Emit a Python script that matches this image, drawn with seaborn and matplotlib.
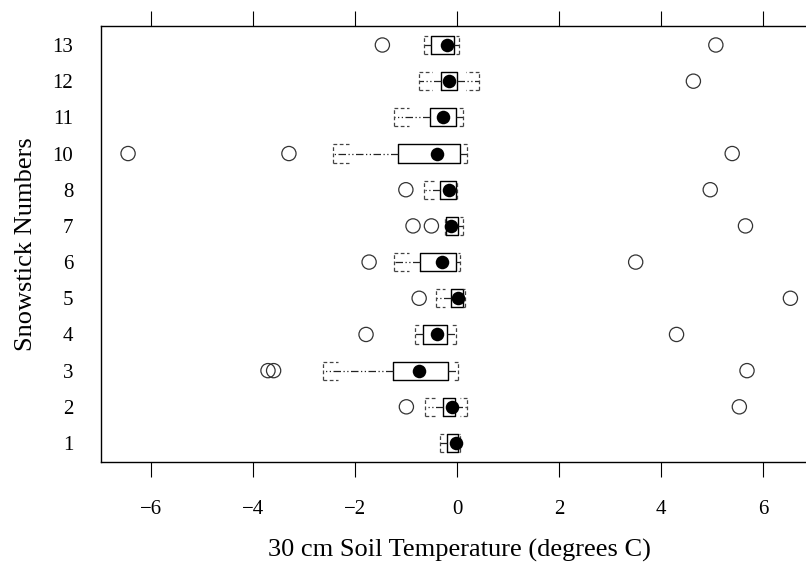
import matplotlib
matplotlib.use("Agg")
import matplotlib.pyplot as plt
import seaborn as sns
import numpy as np
import pandas as pd

# Snowstick stations (no station 9) and 30 cm soil temperature summaries
stations = ["1", "2", "3", "4", "5", "6", "7", "8", "10", "11", "12", "13"]
whisker_lo = [-0.33, -0.63, -2.62, -0.82, -0.41, -1.24, -0.24, -0.64, -2.42, -1.24, -0.75, -0.65]
q1 = [-0.20, -0.27, -1.25, -0.66, -0.11, -0.73, -0.22, -0.33, -1.16, -0.53, -0.31, -0.51]
median = [-0.02, -0.09, -0.75, -0.39, 0.02, -0.30, -0.11, -0.15, -0.39, -0.27, -0.16, -0.20]
q3 = [0.02, -0.04, -0.17, -0.20, 0.11, -0.02, 0.02, -0.02, 0.06, -0.02, 0.01, -0.05]
whisker_hi = [0.06, 0.19, 0.02, -0.01, 0.15, 0.06, 0.12, 0.01, 0.19, 0.11, 0.43, 0.04]
outliers = [
    [],
    [-0.99, 5.53],
    [-3.70, -3.59, 5.68],
    [-1.78, 4.30],
    [-0.74, 6.53],
    [-1.72, 3.50],
    [-0.86, -0.50, 5.65],
    [-1.00, 4.96],
    [-6.44, -3.29, 5.39],
    [],
    [4.63],
    [-1.46, 5.07],
]
x_ticks = [-6, -4, -2, 0, 2, 4, 6]

sns.set_theme(style="white")
plt.rcParams["font.family"] = ["Liberation Serif", "DejaVu Serif"]

fig = plt.figure(figsize=(8.06, 5.62), dpi=100)
W, H = 806, 562
left_px, right_px, top_px, bottom_px = 101, 818.5, 26, 462
ax = fig.add_axes([left_px / W, 1 - bottom_px / H,
                   (right_px - left_px) / W, (bottom_px - top_px) / H])

pos = np.arange(len(stations))
half = 0.25

stats = [dict(whislo=a, q1=b, med=c, q3=d, whishi=e, fliers=[])
         for a, b, c, d, e in zip(whisker_lo, q1, median, q3, whisker_hi)]
ax.bxp(stats, positions=pos, widths=2 * half, orientation="horizontal",
       showfliers=False, patch_artist=False,
       boxprops=dict(color="black", linewidth=1.0),
       whiskerprops=dict(color="#222222", linewidth=0.9, linestyle=(0, (6, 2, 1, 2, 1, 2))),
       capprops=dict(color="#444444", linewidth=0.9, linestyle=(0, (3, 2))),
       capwidths=2 * half,
       medianprops=dict(linewidth=0))

# short dashed stubs at the whisker ends
for p, lo, b, d, hi in zip(pos, whisker_lo, q1, q3, whisker_hi):
    for cap, edge in ((lo, b), (hi, d)):
        span = abs(edge - cap)
        stub = min(0.3, 0.6 * span)
        if stub <= 0:
            continue
        end = cap + np.sign(edge - cap) * stub
        ax.hlines([p - half, p + half], cap, end, colors="#444444",
                  linewidth=0.9, linestyles=[(0, (3, 2))])

# medians as filled dots
med_df = pd.DataFrame({"temp": median, "pos": pos})
sns.scatterplot(data=med_df, x="temp", y="pos", ax=ax, color="black",
                s=95, edgecolor="black", linewidth=0, zorder=5, legend=False)

# outlying values as open circles
out_rows = [(v, p) for p, vals in zip(pos, outliers) for v in vals]
out_df = pd.DataFrame(out_rows, columns=["temp", "pos"])
sns.scatterplot(data=out_df, x="temp", y="pos", ax=ax, marker="o",
                s=105, facecolor="none", edgecolor="#333333", linewidth=0.9,
                zorder=4, legend=False)

ax.set_xlim(-6.97, 7.08)
ax.set_ylim(-0.525, len(stations) - 1 + 0.525)
ax.set_yticks(pos)
ax.set_yticklabels(stations)
ax.set_xticks(x_ticks)
ax.set_xticklabels([str(t).replace("-", "\u2212") for t in x_ticks])

ax.tick_params(axis="x", which="both", bottom=True, top=True, direction="out",
               length=11, width=0.8, color="black", labelsize=15, pad=16,
               labelcolor="black")
ax.tick_params(axis="y", left=False, length=0, labelsize=15, pad=20, labelcolor="black")

for side in ("left", "bottom", "top", "right"):
    ax.spines[side].set_visible(True)
    ax.spines[side].set_color("black")
    ax.spines[side].set_linewidth(1.0)

ax.set_xlabel("30 cm Soil Temperature (degrees C)", fontsize=19, labelpad=15, color="black")
ax.set_ylabel("Snowstick Numbers", fontsize=19, labelpad=11, color="black")
ax.grid(False)

fig.savefig("out.png", dpi=100, facecolor="white")
